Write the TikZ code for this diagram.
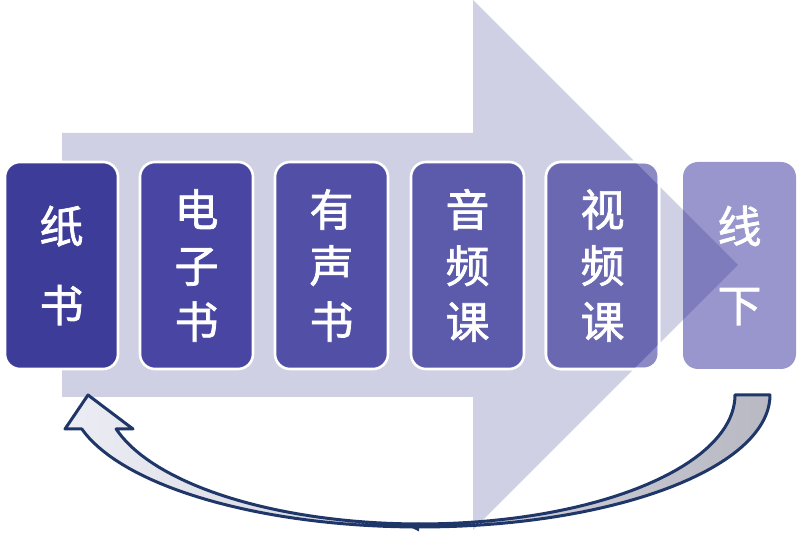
\documentclass[tikz,border=0pt]{standalone}
\usepackage{fontspec}
\newfontfamily\cjk[FakeBold=1.6]{Noto Sans CJK SC}
\definecolor{arrowbg}{HTML}{CFD0E3}
\definecolor{navy}{HTML}{1F3668}
\definecolor{cA}{HTML}{3D3C98}
\definecolor{cB}{HTML}{4846A2}
\definecolor{cC}{HTML}{524FA6}
\definecolor{cD}{HTML}{5C5AAB}
\definecolor{cEout}{HTML}{8C8AC5}
\definecolor{cEin}{HTML}{6A68B1}
\definecolor{cFout}{HTML}{9896CD}
\definecolor{cFin}{HTML}{7E7CBC}
\definecolor{ribL}{HTML}{ECECF4}
\definecolor{ribR}{HTML}{B9B9C3}
\begin{document}
\begin{tikzpicture}[x=0.5pt,y=-0.5pt,
  box/.style={draw=white, line width=1.3pt, rounded corners=7.5pt,
    minimum width=56.5pt, minimum height=103.5pt, inner sep=0pt,
    outer sep=0pt, anchor=north west},
  lbl3/.style={text=white, font=\cjk\fontsize{22}{28}\selectfont, align=center, inner sep=0pt},
  lbl2/.style={text=white, font=\cjk\fontsize{22}{39.5}\selectfont, align=center, inner sep=0pt}]
\useasboundingbox (0,0) rectangle (800,539);
% big background arrow
\fill[arrowbg] (62,133) -- (473,133) -- (473,0) -- (738,265) -- (473,530)
  -- (473,397) -- (62,397) -- cycle;
% boxes
\node[box, fill=cA] (b1) at (5,162) {};
\node[box, fill=cB] (b2) at (140,162) {};
\node[box, fill=cC] (b3) at (275,162) {};
\node[box, fill=cD] (b4) at (411,162) {};
\node[box, fill=cEout] (b5) at (546,162) {};
\node[box, fill=cFout, draw=none] (b6) at (683,162) {};
% darker parts where the arrow lies beneath
\begin{scope}
\clip (62,133) -- (473,133) -- (473,0) -- (738,265) -- (473,530)
  -- (473,397) -- (62,397) -- cycle;
\fill[cEin, rounded corners=7.5pt] (b5.north west) rectangle (b5.south east);
\fill[cFin, rounded corners=7.5pt] (b6.north west) rectangle (b6.south east);
\end{scope}
\draw[white, line width=1.3pt, rounded corners=7.5pt] (b5.north west) rectangle (b5.south east);
% labels
\node[lbl2] (t1) at (b1.center) {纸\\书};
\node[lbl3] (t2) at (b2.center) {电\\子\\书};
\node[lbl3] (t3) at (b3.center) {有\\声\\书};
\node[lbl3] (t4) at (b4.center) {音\\频\\课};
\node[lbl3] (t5) at (b5.center) {视\\频\\课};
\node[lbl2] (t6) at (b6.center) {线\\下};
% curved return arrow
\draw[navy, line width=1.5pt, line join=round, left color=ribL, right color=ribR]
  (770,395) -- plot[domain=0:165.1, samples=80] ({420+350*cos(\x)},{395+132*sin(\x)})
  -- (65,429) -- (88,395) -- (133,429) -- (116,429)
  -- plot[domain=164.7:0, samples=80] ({420+315*cos(\x)},{395+129*sin(\x)})
  -- cycle;
\fill[navy] (410,527) -- (419,522.5) -- (419,531.5) -- cycle;
\end{tikzpicture}
\end{document}
